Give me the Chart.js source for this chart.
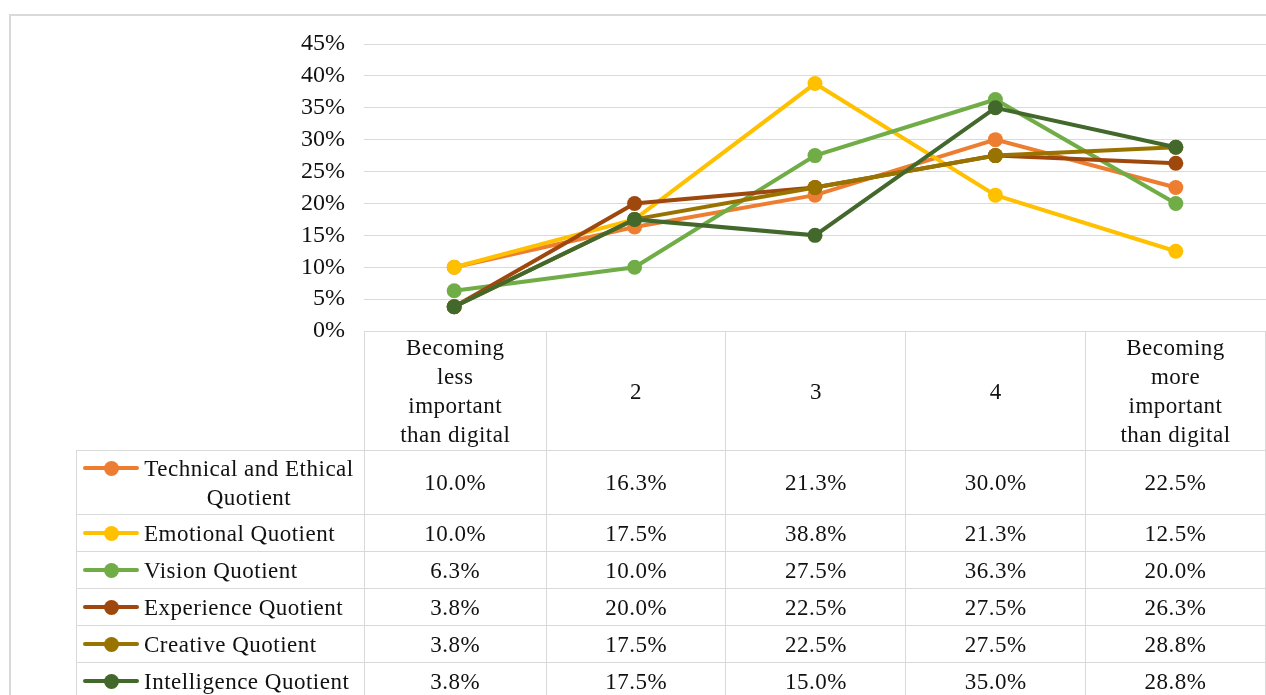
<!DOCTYPE html>
<html>
<head>
<meta charset="utf-8">
<script src="https://cdn.jsdelivr.net/npm/chart.js@4.4.1/dist/chart.umd.min.js"></script>
<style>
  html, body { margin: 0; padding: 0; background: #fff; }
  body { width: 1266px; height: 695px; overflow: hidden; position: relative;
         font-family: "Liberation Serif", "Times New Roman", serif; color: #111; }
  .frame { position: absolute; left: 9px; top: 14px; width: 1400px; height: 900px;
           border-left: 2px solid #d9d9d9; border-top: 2px solid #d9d9d9; }
  .chart-box { position: absolute; left: 0; top: 0; width: 1266px; height: 360px; }
  table.data { position: absolute; left: 76px; top: 331px; border-collapse: collapse;
               table-layout: fixed; font-size: 23px; letter-spacing: 0.5px; }
  table.data td { border: 1px solid #d9d9d9; text-align: center; vertical-align: middle;
                  padding: 0; height: 36px; line-height: 29px; }
  table.data tr.head td { height: 118px; }
  table.data tr.head td.blank { border: none; }
  table.data tr.tall td { height: 63px; }
  td.label { text-align: left !important; }
  .lab { display: flex; align-items: flex-start; padding-left: 6px; }
  .key { position: relative; width: 56px; height: 29px; flex: none; margin-right: 5px; }
  .key i { position: absolute; left: 0; right: 0; top: 12.5px; height: 4px; border-radius: 2px; }
  .key b { position: absolute; left: 20.5px; top: 7px; width: 15px; height: 15px; border-radius: 50%; }
  .txt { display: inline-block; max-width: 210px; text-align: center; }
</style>
</head>
<body>
<div class="frame"></div>
<div class="chart-box"><canvas id="quotientChart"></canvas></div>
<table class="data" id="dataTable"></table>

<script>
// categories (multi-line where the original wraps)
const categories = [
  ["Becoming", "less", "important", "than digital"],
  "2",
  "3",
  "4",
  ["Becoming", "more", "important", "than digital"]
];

// series names and colours
const seriesNames = [
  "Technical and Ethical Quotient",
  "Emotional Quotient",
  "Vision Quotient",
  "Experience Quotient",
  "Creative Quotient",
  "Intelligence Quotient"
];
const seriesColors = ["#ED7D31", "#FFC000", "#70AD47", "#9E480E", "#997300", "#43682B"];

// values in percent
const technicalEthical = [10.0, 16.3, 21.3, 30.0, 22.5];
const emotional        = [10.0, 17.5, 38.8, 21.3, 12.5];
const vision           = [6.3, 10.0, 27.5, 36.3, 20.0];
const experience       = [3.8, 20.0, 22.5, 27.5, 26.3];
const creative         = [3.8, 17.5, 22.5, 27.5, 28.8];
const intelligence     = [3.8, 17.5, 15.0, 35.0, 28.8];
const seriesValues = [technicalEthical, emotional, vision, experience, creative, intelligence];

// y axis ticks
const yTicks = [0, 5, 10, 15, 20, 25, 30, 35, 40, 45];

const datasets = seriesNames.map((name, i) => ({
  label: name,
  data: seriesValues[i],
  borderColor: seriesColors[i],
  backgroundColor: seriesColors[i],
  borderWidth: 4,
  pointRadius: 7.5,
  pointHoverRadius: 7.5,
  pointBorderWidth: 0,
  tension: 0,
  clip: false,
  order: seriesNames.length - i // later series drawn on top, like the original
}));

new Chart(document.getElementById("quotientChart"), {
  type: "line",
  data: { labels: categories, datasets: datasets },
  options: {
    responsive: true,
    maintainAspectRatio: false,
    animation: false,
    layout: { autoPadding: false, padding: { left: 0, right: 0, top: 44, bottom: 29 } },
    plugins: { legend: { display: false }, tooltip: { enabled: false } },
    scales: {
      x: { display: false, offset: true },
      y: {
        min: yTicks[0],
        max: yTicks[yTicks.length - 1],
        afterBuildTicks: scale => { scale.ticks = yTicks.map(v => ({ value: v })); },
        afterFit: scale => {
          scale.width = 364;
          // the layout padding already leaves room for the labels
          scale.paddingTop = 0;
          scale.paddingBottom = 0;
        },
        border: { display: false },
        grid: { color: "#d9d9d9", lineWidth: 1, drawTicks: false },
        ticks: {
          padding: 19,
          color: "#111",
          font: { family: "Liberation Serif", size: 24 },
          callback: v => v + "%"
        }
      }
    }
  }
});

// Data table under the plot
const table = document.getElementById("dataTable");
const colgroup = document.createElement("colgroup");
[288, 182, 180, 180, 180, 180].forEach(w => {
  const col = document.createElement("col");
  col.style.width = w + "px";
  colgroup.appendChild(col);
});
table.appendChild(colgroup);

const head = document.createElement("tr");
head.className = "head";
head.innerHTML = '<td class="blank"></td>' +
  categories.map(c => "<td>" + (Array.isArray(c) ? c.join("<br>") : c) + "</td>").join("");
table.appendChild(head);

seriesNames.forEach((name, i) => {
  const tr = document.createElement("tr");
  if (i === 0) tr.className = "tall";
  const labelCell = '<td class="label"><div class="lab"><span class="key">' +
    '<i style="background:' + seriesColors[i] + '"></i><b style="background:' + seriesColors[i] + '"></b>' +
    '</span><span class="txt">' + name + "</span></div></td>";
  tr.innerHTML = labelCell + seriesValues[i].map(v => "<td>" + v.toFixed(1) + "%</td>").join("");
  table.appendChild(tr);
});
</script>
</body>
</html>
